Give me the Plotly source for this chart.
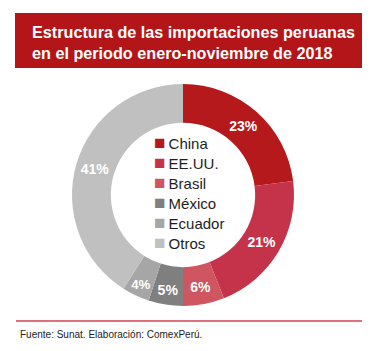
import plotly.graph_objects as go

labels = ["China", "EE.UU.", "Brasil", "México", "Ecuador", "Otros"]
values = [23, 21, 6, 5, 4, 41]
colors = ["#B5191B", "#C5334A", "#CF5560", "#7F7F7F", "#A6A6A6", "#C0C0C0"]

title_text = "Estructura de las importaciones peruanas<br>en el periodo enero-noviembre de 2018"
source_text = "Fuente: Sunat. Elaboración: ComexPerú."

W, H = 378, 351
def px(x):
    return x / W
def py(y):
    return 1 - y / H

fig = go.Figure()
fig.add_trace(go.Pie(
    labels=labels,
    values=values,
    hole=0.65,
    sort=False,
    direction="clockwise",
    rotation=0,
    marker=dict(colors=colors, line=dict(width=0)),
    texttemplate="%{value}%",
    textposition="inside",
    insidetextorientation="horizontal",
    textfont=dict(family="Liberation Sans, Arial", size=14, color="white", weight="bold"),
    domain=dict(x=[px(72), px(294)], y=[py(306), py(84)]),
    hoverinfo="label+percent",
    showlegend=False,
))

annotations = [
    dict(text=title_text, xref="paper", yref="paper",
         x=px(30), y=py(42), xanchor="left", yanchor="middle",
         align="left", showarrow=False,
         font=dict(family="Liberation Sans, Arial", size=16.2, color="white", weight="bold")),
    dict(text=source_text, xref="paper", yref="paper",
         x=px(18), y=py(334), xanchor="left", yanchor="middle",
         align="left", showarrow=False,
         font=dict(family="Liberation Sans, Arial", size=10, color="#222222")),
]

# Legend inside the donut hole, built from labels/colors
for i, (lab, col) in enumerate(zip(labels, colors)):
    annotations.append(dict(
        text=f"<span style='color:{col};font-size:19px'>■</span><span style='font-size:11px'> </span>{lab}",
        xref="paper", yref="paper",
        x=px(152), y=py(142 + 20 * i), xanchor="left", yanchor="middle",
        align="left", showarrow=False,
        font=dict(family="Liberation Sans, Arial", size=15, color="#1E1E1E"),
    ))

fig.update_layout(
    width=W, height=H,
    margin=dict(l=0, r=0, t=0, b=0),
    paper_bgcolor="white",
    plot_bgcolor="white",
    showlegend=False,
    shapes=[
        dict(type="rect", xref="paper", yref="paper",
             x0=px(15), x1=px(362), y0=py(68), y1=py(13),
             fillcolor="#B31518", line=dict(width=0), layer="below"),
        dict(type="line", xref="paper", yref="paper",
             x0=px(16), x1=px(362), y0=py(321), y1=py(321),
             line=dict(color="#D0404F", width=1.5)),
    ],
    annotations=annotations,
)

fig.write_html("out.html")
